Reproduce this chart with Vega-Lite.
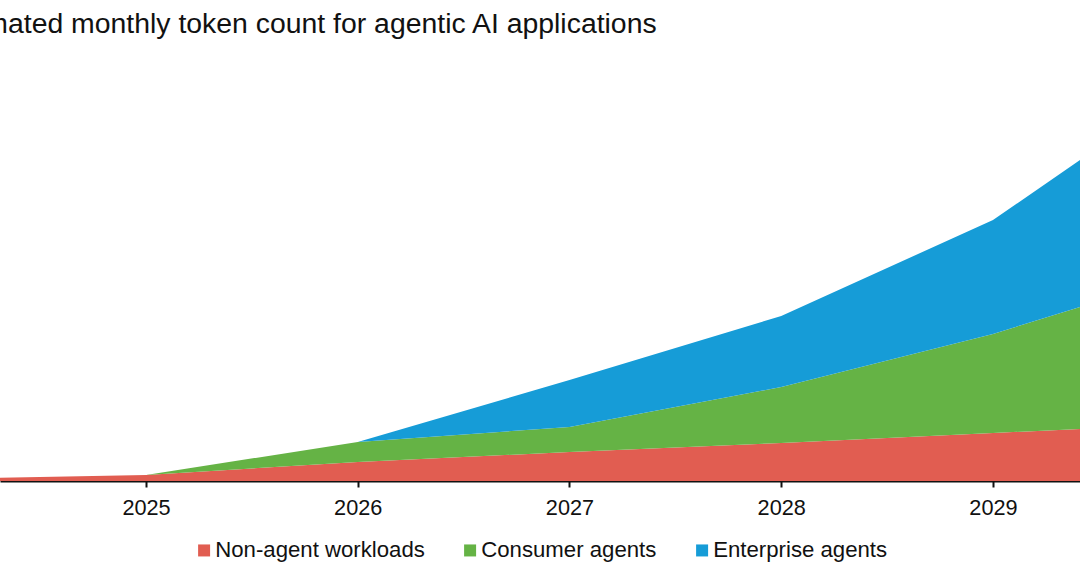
{
  "$schema": "https://vega.github.io/schema/vega-lite/v6.json",
  "width": 1080,
  "height": 421,
  "autosize": {"type": "none"},
  "padding": {"left": 0, "right": 0, "top": 60, "bottom": 89},
  "background": "white",
  "title": {
    "text": "Estimated monthly token count for agentic AI applications",
    "anchor": "start",
    "frame": "group",
    "dx": -63,
    "offset": 21,
    "font": "Liberation Sans",
    "fontSize": 28.4,
    "fontWeight": "normal",
    "color": "#111111"
  },
  "data": {
    "values": [
      {"year": 2024, "kind": "Non-agent", "segment": "Non-agent workloads", "tokens": 0.02},
      {"year": 2025, "kind": "Non-agent", "segment": "Non-agent workloads", "tokens": 0.06},
      {"year": 2026, "kind": "Non-agent", "segment": "Non-agent workloads", "tokens": 0.19},
      {"year": 2027, "kind": "Non-agent", "segment": "Non-agent workloads", "tokens": 0.29},
      {"year": 2028, "kind": "Non-agent", "segment": "Non-agent workloads", "tokens": 0.38},
      {"year": 2029, "kind": "Non-agent", "segment": "Non-agent workloads", "tokens": 0.48},
      {"year": 2030, "kind": "Non-agent", "segment": "Non-agent workloads", "tokens": 0.58},
      {"year": 2024, "kind": "Agent", "segment": "Consumer agents", "tokens": 0},
      {"year": 2025, "kind": "Agent", "segment": "Consumer agents", "tokens": 0},
      {"year": 2026, "kind": "Agent", "segment": "Consumer agents", "tokens": 0.20},
      {"year": 2027, "kind": "Agent", "segment": "Consumer agents", "tokens": 0.25},
      {"year": 2028, "kind": "Agent", "segment": "Consumer agents", "tokens": 0.56},
      {"year": 2029, "kind": "Agent", "segment": "Consumer agents", "tokens": 0.99},
      {"year": 2030, "kind": "Agent", "segment": "Consumer agents", "tokens": 1.55},
      {"year": 2024, "kind": "Agent", "segment": "Enterprise agents", "tokens": 0},
      {"year": 2025, "kind": "Agent", "segment": "Enterprise agents", "tokens": 0},
      {"year": 2026, "kind": "Agent", "segment": "Enterprise agents", "tokens": 0},
      {"year": 2027, "kind": "Agent", "segment": "Enterprise agents", "tokens": 0.47},
      {"year": 2028, "kind": "Agent", "segment": "Enterprise agents", "tokens": 0.71},
      {"year": 2029, "kind": "Agent", "segment": "Enterprise agents", "tokens": 1.14},
      {"year": 2030, "kind": "Agent", "segment": "Enterprise agents", "tokens": 1.94}
    ]
  },
  "transform": [
    {
      "stack": "tokens",
      "groupby": ["year"],
      "sort": [
        {"field": "kind", "order": "descending"},
        {"field": "segment", "order": "ascending"}
      ],
      "as": ["tokens_lo", "tokens_hi"]
    }
  ],
  "mark": {"type": "area", "clip": true, "interpolate": "linear"},
  "encoding": {
    "x": {
      "field": "year",
      "type": "quantitative",
      "scale": {"domain": [2024.3105, 2029.4109], "nice": false, "zero": false},
      "axis": {
        "title": null,
        "values": [2025, 2026, 2027, 2028, 2029],
        "format": "d",
        "grid": false,
        "domainColor": "#111111",
        "domainWidth": 2,
        "tickColor": "#111111",
        "tickWidth": 2,
        "tickSize": 6,
        "labelPadding": 10,
        "labelFont": "Liberation Sans",
        "labelFontSize": 21.7,
        "labelColor": "#111111",
        "labelFlush": false,
        "labelOverlap": false
      }
    },
    "y": {
      "field": "tokens_hi",
      "type": "quantitative",
      "scale": {"domain": [0, 4.21], "nice": false},
      "axis": null
    },
    "y2": {"field": "tokens_lo"},
    "color": {
      "field": "segment",
      "type": "nominal",
      "scale": {
        "domain": ["Non-agent workloads", "Consumer agents", "Enterprise agents"],
        "range": ["#E15D51", "#65B345", "#169CD7"]
      },
      "legend": {
        "title": null,
        "orient": "bottom",
        "direction": "horizontal",
        "symbolType": "square",
        "symbolSize": 144,
        "symbolStrokeWidth": 0,
        "labelFont": "Liberation Sans",
        "labelFontSize": 22.2,
        "labelLimit": 0,
        "labelColor": "#111111",
        "labelOffset": 0,
        "columnPadding": 34,
        "offset": 20
      }
    }
  },
  "config": {
    "view": {"stroke": null},
    "legend": {"layout": {"bottom": {"anchor": "middle"}}}
  }
}
